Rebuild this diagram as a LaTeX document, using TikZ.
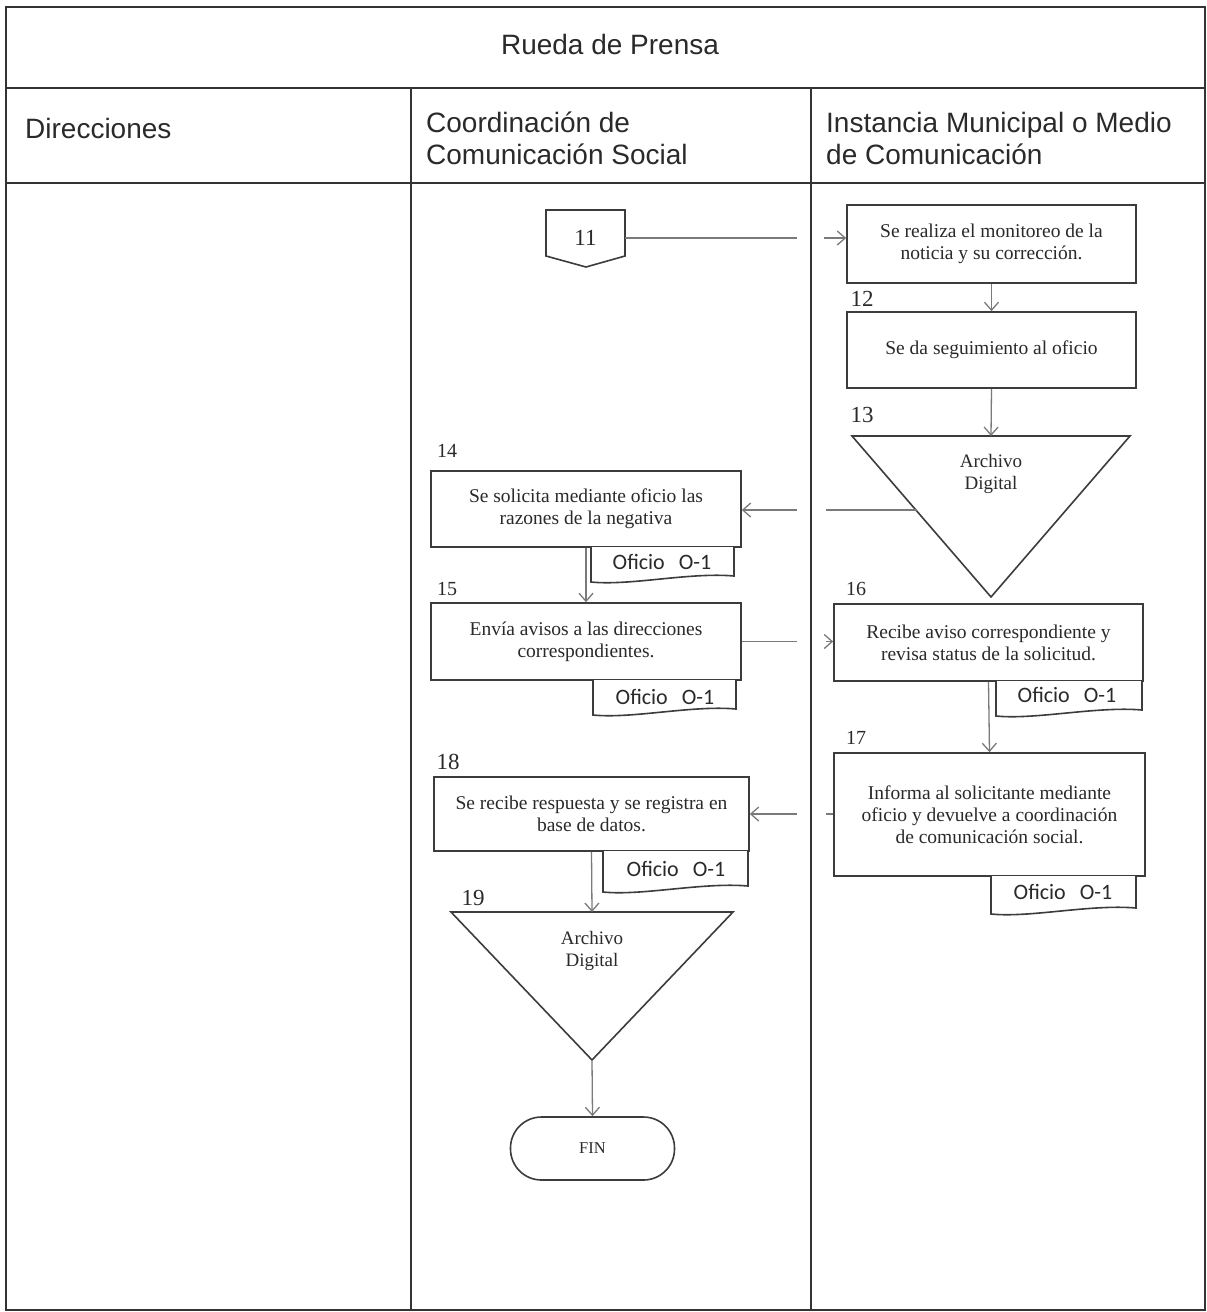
\documentclass[tikz,border=0pt]{standalone}
\usepackage{fontspec}
\setmainfont{Liberation Serif}
\newfontfamily\hdrfont{Liberation Sans}
\newfontfamily\docfont{Carlito}
\usetikzlibrary{arrows.meta}
\definecolor{linec}{HTML}{333333}
\definecolor{boxc}{HTML}{3C3C3C}
\definecolor{conc}{HTML}{7A7A7A}
\definecolor{txtc}{HTML}{2A2A2A}
\begin{document}
\begin{tikzpicture}[x=1pt,y=-1pt,
  lane/.style={draw=linec,line width=2pt},
  hdr/.style={font=\hdrfont\fontsize{28}{32}\selectfont,text=txtc,inner sep=0pt,align=left},
  stepbox/.style={draw=boxc,line width=1.6pt,fill=white,align=center,inner sep=2pt,
    font=\fontsize{19.5}{22}\selectfont,text=txtc},
  shapeline/.style={draw=boxc,line width=1.6pt},
  num/.style={font=\fontsize{23}{23}\selectfont,text=txtc,inner sep=0pt},
  numsm/.style={font=\fontsize{20}{20}\selectfont,text=txtc,inner sep=0pt},
  doctext/.style={font=\docfont\fontsize{22}{22}\selectfont,text=txtc,inner sep=0pt},
  trtext/.style={font=\fontsize{19}{22}\selectfont,text=txtc,align=center,inner sep=0pt},
  con/.style={draw=conc,line width=1.3pt},
  arr/.style={con,-{Straight Barb[length=8pt,width=14pt,line width=1.3pt]}}
]
\useasboundingbox (0,0) rectangle (1207,1312);
% table
\draw[lane] (6,7) rectangle (1205,1310);
\draw[lane] (6,88) -- (1205,88);
\draw[lane] (6,183) -- (1205,183);
\draw[lane] (411,88) -- (411,1310);
\draw[lane] (811,88) -- (811,1310);
\node[hdr] (title) at (610,44) {Rueda de Prensa};
\node[hdr,anchor=west] (h1) at (25,128) {Direcciones};
\node[hdr,anchor=north west] (h2) at (426,112) {Coordinación de\\Comunicación Social};
\node[hdr,anchor=north west] (h3) at (826,112) {Instancia Municipal o Medio\\de Comunicación};

% off-page connector 11
\draw[shapeline,fill=white] (546,210) -- (625,210) -- (625,256) -- (586,267) -- (546,256) -- cycle;
\node[num] (n11) at (585.5,238) {11};
\coordinate (c11) at (625,238);

% steps in right lane
\node[stepbox,minimum width=289pt,minimum height=78pt] (b1) at (991.5,244) {Se realiza el monitoreo de la\\noticia y su corrección.};
\node[stepbox,minimum width=289pt,minimum height=76pt] (b2) at (991.5,350) {Se da seguimiento al oficio};
\node[num] (l12) at (862,299) {12};
\node[num] (l13) at (862,415) {13};

% triangle 1
\draw[shapeline,fill=white] (852,436) -- (1130,436) -- (991,597) -- cycle;
\coordinate (t1top) at (991,436);
\coordinate (t1side) at (917,510);
\node[trtext] (t1) at (991,474) {Archivo\\Digital};

% left lane (coordination)
\node[stepbox,minimum width=310pt,minimum height=76pt] (b14) at (586,509) {Se solicita mediante oficio las\\razones de la negativa};
\node[numsm] (l14) at (447,451) {14};
\node[stepbox,minimum width=310pt,minimum height=77pt] (b15) at (586,641.5) {Envía avisos a las direcciones\\correspondientes.};
\node[numsm] (l15) at (447,589) {15};

\node[stepbox,minimum width=309pt,minimum height=77pt] (b16) at (988.5,642.5) {Recibe aviso correspondiente y\\revisa status de la solicitud.};
\node[numsm] (l16) at (856,589) {16};
\node[stepbox,minimum width=311pt,minimum height=123pt] (b17) at (989.5,814.5) {Informa al solicitante mediante\\oficio y devuelve a coordinación\\de comunicación social.};
\node[numsm] (l17) at (856,738) {17};

\node[stepbox,minimum width=315pt,minimum height=74pt] (b18) at (591.5,814) {Se recibe respuesta y se registra en\\base de datos.};
\node[num] (l18) at (448,762) {18};

% triangle 2
\draw[shapeline,fill=white] (451,912) -- (733,912) -- (592,1060) -- cycle;
\coordinate (t2top) at (592,912);
\coordinate (t2apex) at (592,1060);
\node[trtext] (t2) at (592,951) {Archivo\\Digital};
\node[num] (l19) at (473,898) {19};

% FIN
\node[draw=boxc,line width=1.6pt,rounded corners=31pt,minimum width=164pt,minimum height=63pt,
  font=\fontsize{16.5}{16.5}\selectfont,text=txtc] (fin) at (592.5,1148.5) {FIN};

% documents
\draw[shapeline,fill=white] (591,547) -- (591,582) .. controls (630,586) and (690,572) .. (734,576) -- (734,547);
\node[doctext] (d14) at (662,562) {Oficio\hspace{14pt}O-1};
\draw[shapeline,fill=white] (593,680) -- (593,715) .. controls (632,719) and (692,705) .. (736,709) -- (736,680);
\node[doctext] (d15) at (665,697) {Oficio\hspace{14pt}O-1};
\draw[shapeline,fill=white] (996,681) -- (996,716) .. controls (1035,720) and (1097,706) .. (1142,710) -- (1142,681);
\node[doctext] (d16) at (1067,695) {Oficio\hspace{14pt}O-1};
\draw[shapeline,fill=white] (991,876) -- (991,914) .. controls (1030,918) and (1090,904) .. (1136,908) -- (1136,876);
\node[doctext] (d17) at (1063,892) {Oficio\hspace{14pt}O-1};
\draw[shapeline,fill=white] (603,851) -- (603,892) .. controls (642,896) and (703,882) .. (748,886) -- (748,851);
\node[doctext] (d18) at (676,869) {Oficio\hspace{14pt}O-1};

% gap coordinates around lane line
\coordinate (g1L) at (797,238); \coordinate (g1R) at (824,238);
\coordinate (g2L) at (797,510); \coordinate (g2R) at (826,510);
\coordinate (g3L) at (797,641.5); \coordinate (g3R) at (826,641.5);
\coordinate (g4L) at (797,814); \coordinate (g4R) at (826,814);

% connectors
\draw[con] (c11) -- (g1L);
\draw[arr] (g1R) -- (b1.west |- g1R);
\draw[arr] (b1.south) -- (b2.north);
\draw[arr] (b2.south) -- (t1top);
\draw[con] (t1side) -- (g2R);
\draw[arr] (g2L) -- (b14.east |- g2L);
\draw[arr] (b14.south) -- (b15.north);
\draw[con] (b15.east) -- (g3L);
\draw[arr] (g3R) -- (b16.west |- g3R);
\draw[arr] (b16.south) -- (b17.north);
\draw[con] (b17.west |- g4R) -- (g4R);
\draw[arr] (g4L) -- (b18.east |- g4L);
\draw[arr] (b18.south) -- (t2top);
\draw[arr] (t2apex) -- (fin.north);
\end{tikzpicture}
\end{document}
